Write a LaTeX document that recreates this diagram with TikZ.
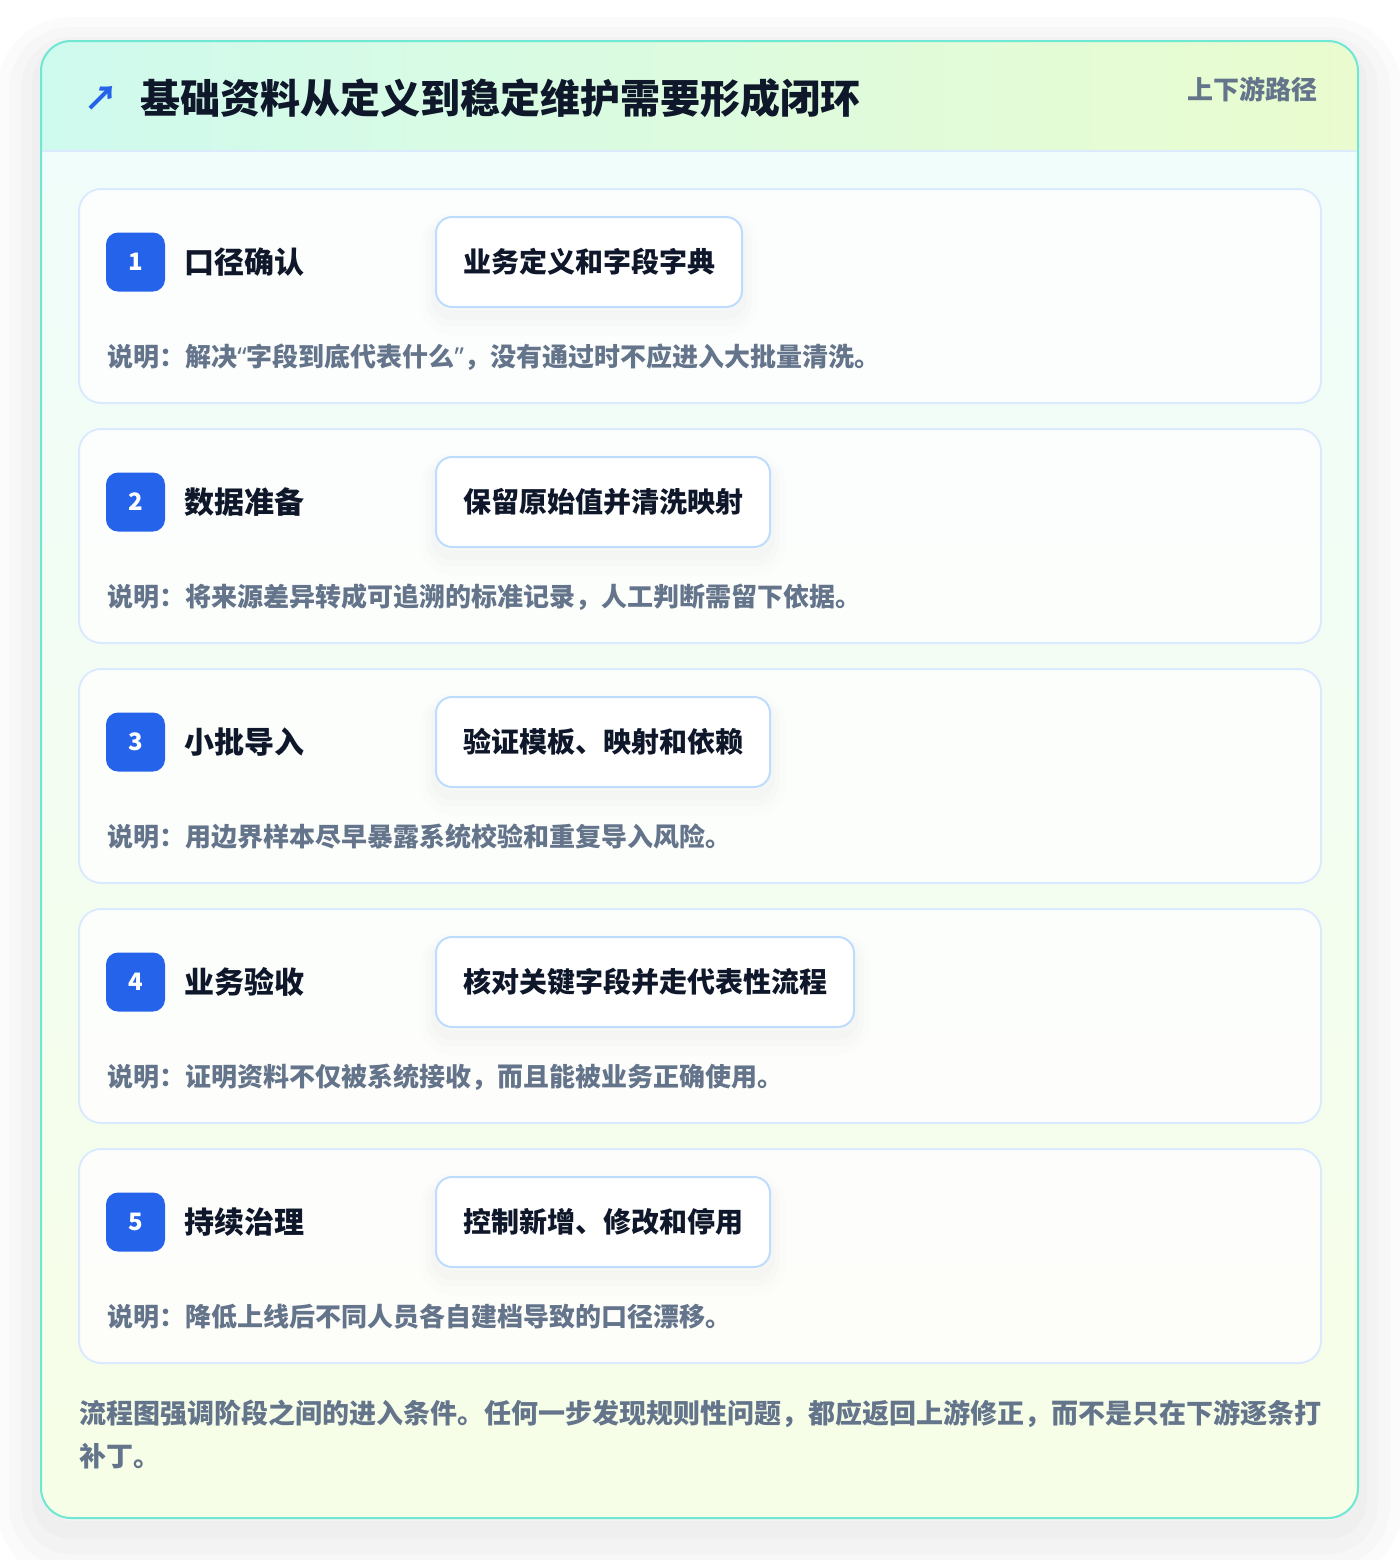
\documentclass[tikz,border=0pt]{standalone}
\usepackage{fontspec}
\setmainfont{Noto Sans CJK SC}
\newfontfamily\latinfont{Noto Sans}
\usetikzlibrary{positioning}

\definecolor{outerline}{HTML}{6EE7D3}
\definecolor{headleft}{HTML}{CFFAEE}
\definecolor{headright}{HTML}{EAFCCF}
\definecolor{bodytop}{HTML}{F0FDFA}
\definecolor{bodybottom}{HTML}{F7FEE7}
\definecolor{cardline}{HTML}{DBEAFE}
\definecolor{boxline}{HTML}{BFDBFE}
\definecolor{badgeblue}{HTML}{2563EB}
\definecolor{titleink}{HTML}{0F172A}
\definecolor{noteink}{HTML}{64748B}

\tikzset{
  halo/.style n args={3}{preaction={draw=black,draw opacity=#3,line width=#1,
    transform canvas={yshift=#2}}},
  card/.style={draw=cardline,line width=1pt,fill=white,fill opacity=0.8,
    rounded corners=11pt,minimum width=621pt,minimum height=107pt,inner sep=0pt},
  badge/.style={fill=badgeblue,rounded corners=6pt,minimum size=29.5pt,inner sep=0pt,
    text=white,font=\bfseries\fontsize{12}{14}\selectfont},
  steplabel/.style={inner sep=0pt,text=titleink,font=\bfseries\fontsize{15}{18}\selectfont},
  taskbox/.style={anchor=west,draw=boxline,line width=1pt,fill=white,rounded corners=8pt,
    minimum height=45pt,inner xsep=13.5pt,text=titleink,font=\bfseries\fontsize{14}{17}\selectfont,
    halo={16pt}{-6pt}{0.008},halo={10pt}{-5pt}{0.01},halo={5pt}{-4pt}{0.012}},
  note/.style={anchor=west,inner sep=0pt,text=noteink,font=\bfseries\fontsize{13}{16}\selectfont}
}

\begin{document}
\begin{tikzpicture}[x=0.5pt,y=-0.5pt]
\useasboundingbox[fill=white] (0,0) rectangle (1400,1560);

% outer panel
\path[fill=white,rounded corners=15pt,
  halo={44pt}{-10pt}{0.014},halo={32pt}{-9pt}{0.016},halo={20pt}{-8pt}{0.016},halo={9pt}{-6pt}{0.016}]
  (41,41) rectangle (1358,1518);
\begin{scope}
\clip[rounded corners=15pt] (41,41) rectangle (1358,1518);
\shade[top color=bodytop,bottom color=bodybottom] (41,151) rectangle (1358,1518);
\shade[left color=headleft,right color=headright] (41,41) rectangle (1358,151);
\end{scope}
\draw[cardline,line width=1pt] (41,151) -- (1358,151);
\draw[outerline,line width=1pt,rounded corners=15pt] (41,41) rectangle (1358,1518);

% header
\node[text=badgeblue,font=\bfseries\fontsize{17}{20}\selectfont] (arrow) at (101,98) {↗};
\node[anchor=west,inner sep=0pt,text=titleink,font=\bfseries\fontsize{20}{24}\selectfont]
  (title) at (140,98) {基础资料从定义到稳定维护需要形成闭环};
\node[anchor=east,inner sep=0pt,text=noteink,font=\bfseries\fontsize{13}{16}\selectfont]
  (route) at (1318,89) {上下游路径};

% steps
\foreach \i/\name/\task/\desc in {
  1/口径确认/业务定义和字段字典/说明：解决{\latinfont “}字段到底代表什么{\latinfont ”}，没有通过时不应进入大批量清洗。,
  2/数据准备/保留原始值并清洗映射/说明：将来源差异转成可追溯的标准记录，人工判断需留下依据。,
  3/小批导入/验证模板、映射和依赖/说明：用边界样本尽早暴露系统校验和重复导入风险。,
  4/业务验收/核对关键字段并走代表性流程/说明：证明资料不仅被系统接收，而且能被业务正确使用。,
  5/持续治理/控制新增、修改和停用/说明：降低上线后不同人员各自建档导致的口径漂移。}
{
  \pgfmathsetmacro\top{189+240*(\i-1)}
  \node[card] (card\i) at (700,\top+107) {};
  \node[badge] (badge\i) at (135.5,\top+73) {\i};
  \node[steplabel,right=9.5pt of badge\i] (label\i) {\name};
  \node[taskbox] (task\i) at (435,\top+73) {\task};
  \node[note] (note\i) at (107,\top+168) {\desc};
}

% footer
\node[anchor=north west,inner sep=0pt,align=left,text=noteink,
  font=\bfseries\fontsize{13.5}{21.5}\selectfont] (footer) at (79,1400)
  {流程图强调阶段之间的进入条件。任何一步发现规则性问题，都应返回上游修正，而不是只在下游逐条打\\补丁。};
\end{tikzpicture}
\end{document}
